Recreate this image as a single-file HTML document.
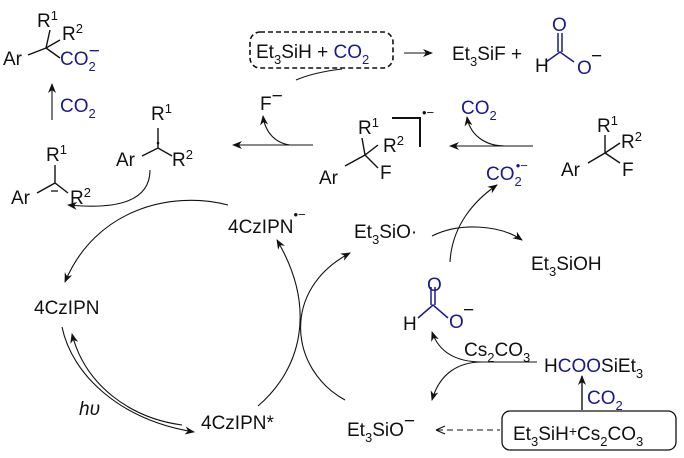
<!DOCTYPE html>
<html><head><meta charset="utf-8"><style>
html,body{margin:0;padding:0;background:#fff}
svg{display:block}
text{font-family:"Liberation Sans",sans-serif;font-size:19px;fill:#111}
.b{fill:#1a1a8c}
.s{font-size:13px}
</style></head><body>
<svg width="684" height="458" viewBox="0 0 684 458" xmlns="http://www.w3.org/2000/svg">
<defs><marker id="a" markerWidth="10" markerHeight="8" refX="9" refY="4" orient="auto" markerUnits="userSpaceOnUse"><path d="M0,0 L10,4 L0,8 L3,4z" fill="#111"/></marker></defs>
<g stroke="#111" stroke-width="1.1" fill="none">
<path d="M28,55 L46,48 L60,40 M46,48 L50,30 M46,48 L60,58" stroke-width="1.4"/>
<path d="M52,120 L52,84" marker-end="url(#a)"/>
<path d="M142,156 L158,148 L172,156 M158,148 L158,128" stroke-width="1.4"/>
<path d="M37,193 L55,183 L68,193 M55,183 L55,165" stroke-width="1.4"/>
<rect x="250" y="32" width="143" height="36" rx="10" stroke-dasharray="5,3" stroke-width="1.6"/>
<path d="M404,53 L432,53" marker-end="url(#a)"/>
<path d="M546,62 L560,52 L574,62" stroke="#1a1a8c" stroke-width="1.5"/>
<path d="M558,52 L558,33 M562,52 L562,33" stroke="#1a1a8c" stroke-width="1.5"/>
<path d="M290,145 C275,143 265,132 263,116" marker-end="url(#a)"/>
<path d="M296,80 C310,74 325,71 342,69"/>
<path d="M313,145 L233,145" marker-end="url(#a)"/>
<path d="M345,166 L365,155 L378,145 M365,155 L378,168 M365,155 L362,138" stroke-width="1.4"/>
<path d="M392,118 L420,118 L420,147" stroke-width="2"/>
<path d="M533,146 L450,146" marker-end="url(#a)"/>
<path d="M505,146 C485,146 470,135 467,117" marker-end="url(#a)"/>
<path d="M450,262 C452,225 475,200 497,185" marker-end="url(#a)"/>
<path d="M588,163 L605,153 L620,163 M605,153 L605,135 M605,153 L620,143" stroke-width="1.4"/>
<path d="M432,236 C460,222 500,225 522,240" marker-end="url(#a)"/>
<path d="M418,318 L433,305 L448,318" stroke="#1a1a8c" stroke-width="1.5"/>
<path d="M431,305 L431,287 M435,305 L435,287" stroke="#1a1a8c" stroke-width="1.5"/>
<path d="M537,362 L482,362 C460,362 440,355 432,332" marker-end="url(#a)"/>
<path d="M482,362 C460,362 440,372 432,400" marker-end="url(#a)"/>
<path d="M437,430 L500,430" stroke-dasharray="6,4"/>
<path d="M436,430 L445,426 M436,430 L445,434" />
<path d="M582,410 L582,376" marker-end="url(#a)" stroke-width="1.4"/>
<rect x="502" y="411" width="174" height="39" rx="8" stroke-width="1.3"/>
<path d="M150,170 C150,200 120,210 68,205" marker-end="url(#a)"/>
<path d="M228,205 C170,190 95,210 65,282" marker-end="url(#a)"/>
<path d="M62,327 C72,375 120,420 194,432" marker-end="url(#a)"/>
<path d="M182,425 C130,418 85,385 72,334" marker-end="url(#a)"/>
<path d="M258,406 C300,370 318,310 277,240" marker-end="url(#a)"/>
<path d="M345,400 C290,370 280,290 350,253" marker-end="url(#a)"/>
</g>
<text x="37" y="27">R<tspan class="s" dy="-7">1</tspan></text>
<text x="62" y="40">R<tspan class="s" dy="-7">2</tspan></text>
<text x="3" y="65">Ar</text>
<text x="60" y="65" class="b">CO<tspan class="s" dy="6">2</tspan><tspan dx="-7" dy="-14">−</tspan></text>
<text x="60" y="112" class="b">CO<tspan class="s" dy="6">2</tspan></text>
<text x="151" y="120">R<tspan class="s" dy="-7">1</tspan></text>
<text x="116" y="166">Ar</text>
<text x="172" y="166">R<tspan class="s" dy="-7">2</tspan></text>
<circle cx="158" cy="143" r="1.3" fill="#111"/>
<text x="46" y="161">R<tspan class="s" dy="-7">1</tspan></text>
<text x="11" y="204">Ar</text>
<text x="70" y="204">R<tspan class="s" dy="-7">2</tspan></text>
<path d="M51,191 L58,191" stroke="#111" stroke-width="1.3"/>
<text x="256" y="58">Et<tspan class="s" dy="6">3</tspan><tspan dy="-6">SiH + </tspan><tspan class="b">CO</tspan><tspan class="s b" dy="6">2</tspan></text>
<text x="452" y="60">Et<tspan class="s" dy="6">3</tspan><tspan dy="-6">SiF +</tspan></text>
<text x="535" y="72">H</text>
<text x="552" y="31" class="b">O</text>
<text x="577" y="74" class="b">O</text>
<text x="591" y="62">−</text>
<text x="260" y="110">F<tspan dy="-8">−</tspan></text>
<text x="358" y="134">R<tspan class="s" dy="-7">1</tspan></text>
<text x="383" y="152">R<tspan class="s" dy="-7">2</tspan></text>
<text x="319" y="184">Ar</text>
<text x="380" y="179">F</text>
<text x="422" y="117" style="font-size:13px">•−</text>
<text x="461" y="114" class="b">CO<tspan class="s" dy="6">2</tspan></text>
<text x="486" y="180" class="b">CO<tspan class="s" dy="6">2</tspan><tspan dx="-6" dy="-16" style="font-size:13px">•−</tspan></text>
<text x="597" y="132">R<tspan class="s" dy="-7">1</tspan></text>
<text x="621" y="148">R<tspan class="s" dy="-7">2</tspan></text>
<text x="561" y="176">Ar</text>
<text x="622" y="176">F</text>
<text x="228" y="233">4CzIPN<tspan style="font-size:13px" dy="-14">•−</tspan></text>
<text x="354" y="238">Et<tspan class="s" dy="6">3</tspan><tspan dy="-6">SiO·</tspan></text>
<text x="531" y="270">Et<tspan class="s" dy="6">3</tspan><tspan dy="-6">SiOH</tspan></text>
<text x="427" y="291" class="b">O</text>
<text x="403" y="330">H</text>
<text x="449" y="328" class="b">O</text>
<text x="463" y="316">−</text>
<text x="464" y="356">Cs<tspan class="s" dy="6">2</tspan><tspan dy="-6">CO</tspan><tspan class="s" dy="6">3</tspan></text>
<text x="544" y="372">H<tspan class="b">COO</tspan>SiEt<tspan class="s" dy="6">3</tspan></text>
<text x="587" y="404" class="b">CO<tspan class="s" dy="6">2</tspan></text>
<text x="347" y="436">Et<tspan class="s" dy="6">3</tspan><tspan dy="-6">SiO</tspan><tspan dy="-9">−</tspan></text>
<text x="513" y="440">Et<tspan class="s" dy="6">3</tspan><tspan dy="-6">SiH</tspan><tspan dy="-4" style="font-size:14px">+</tspan><tspan dy="4">Cs</tspan><tspan class="s" dy="6">2</tspan><tspan dy="-6">CO</tspan><tspan class="s" dy="6">3</tspan></text>
<text x="34" y="314">4CzIPN</text>
<text x="201" y="429">4CzIPN*</text>
<text x="79" y="415" style="font-style:italic">hυ</text>
</svg>
</body></html>
